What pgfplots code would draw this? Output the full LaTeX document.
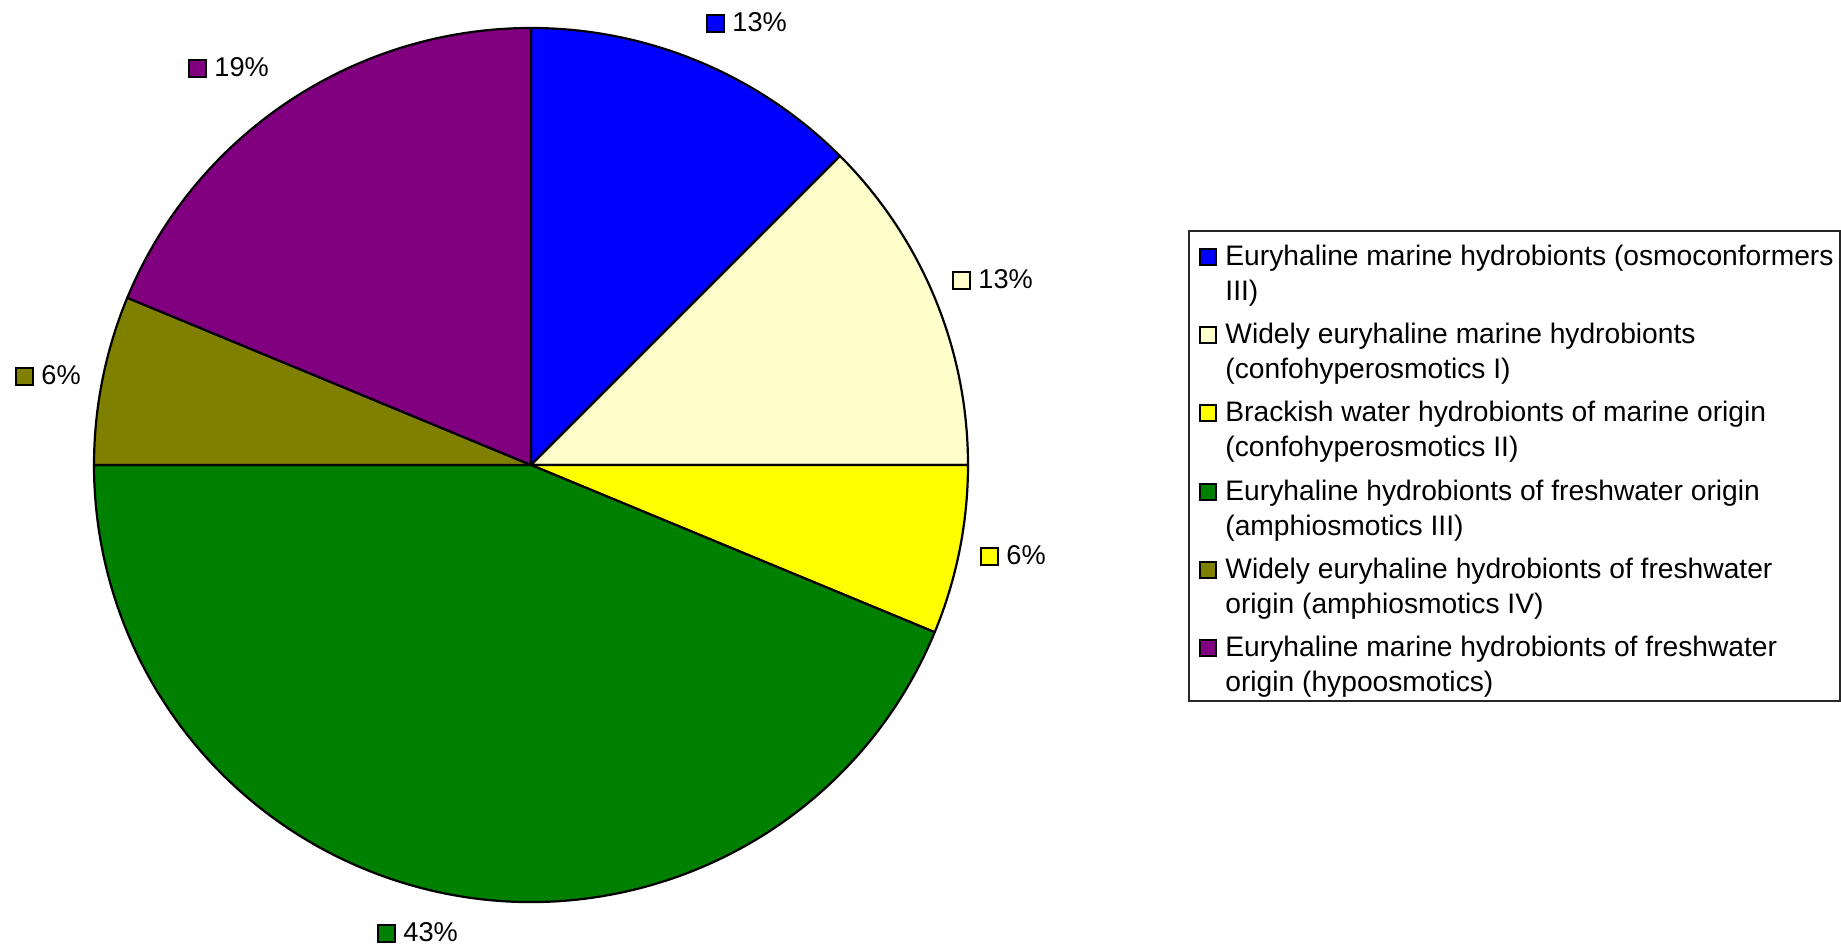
\documentclass[border=0pt]{standalone}
\usepackage{fontspec}
\setmainfont{Liberation Sans}
\usepackage{pgfplots}
\pgfplotsset{compat=1.18}
\definecolor{cBlue}{RGB}{0,0,255}
\definecolor{cCream}{RGB}{255,255,204}
\definecolor{cYellow}{RGB}{255,255,0}
\definecolor{cGreen}{RGB}{0,128,0}
\definecolor{cOlive}{RGB}{128,128,0}
\definecolor{cPurple}{RGB}{128,0,128}
% pie data (percent), clockwise from 12 o'clock
\def\vA{12.5}\def\vB{12.5}\def\vC{6.25}\def\vD{43.75}\def\vE{6.25}\def\vF{18.75}
\begin{document}
\begin{tikzpicture}
\begin{axis}[
  at={(0,0)}, anchor=south west,
  scale only axis, x=0.5pt, y=0.5pt,
  xmin=0, xmax=1841, ymin=0, ymax=947,
  hide axis, clip=false,
]
\path (axis cs:0,0) rectangle (axis cs:1841,947);
% slices: centre (531,482), radius 437 units = 218.5pt
\pgfmathsetmacro\aA{90}
\pgfmathsetmacro\aB{90-3.6*\vA}
\pgfmathsetmacro\aC{\aB-3.6*\vB}
\pgfmathsetmacro\aD{\aC-3.6*\vC}
\pgfmathsetmacro\aE{\aD-3.6*\vD}
\pgfmathsetmacro\aF{\aE-3.6*\vE}
\pgfmathsetmacro\aG{\aF-3.6*\vF}
\filldraw[fill=cBlue, draw=black, line width=1.1pt, line join=round] (axis cs:531,482) -- (axis cs:{531+437*cos(\aA)},{482+437*sin(\aA)}) arc[start angle=\aA, end angle=\aB, radius=218.5pt] -- cycle;
\filldraw[fill=cCream, draw=black, line width=1.1pt, line join=round] (axis cs:531,482) -- (axis cs:{531+437*cos(\aB)},{482+437*sin(\aB)}) arc[start angle=\aB, end angle=\aC, radius=218.5pt] -- cycle;
\filldraw[fill=cYellow, draw=black, line width=1.1pt, line join=round] (axis cs:531,482) -- (axis cs:{531+437*cos(\aC)},{482+437*sin(\aC)}) arc[start angle=\aC, end angle=\aD, radius=218.5pt] -- cycle;
\filldraw[fill=cGreen, draw=black, line width=1.1pt, line join=round] (axis cs:531,482) -- (axis cs:{531+437*cos(\aD)},{482+437*sin(\aD)}) arc[start angle=\aD, end angle=\aE, radius=218.5pt] -- cycle;
\filldraw[fill=cOlive, draw=black, line width=1.1pt, line join=round] (axis cs:531,482) -- (axis cs:{531+437*cos(\aE)},{482+437*sin(\aE)}) arc[start angle=\aE, end angle=\aF, radius=218.5pt] -- cycle;
\filldraw[fill=cPurple, draw=black, line width=1.1pt, line join=round] (axis cs:531,482) -- (axis cs:{531+437*cos(\aF)},{482+437*sin(\aF)}) arc[start angle=\aF, end angle=\aG, radius=218.5pt] -- cycle;
% data labels
\tikzset{lab/.style={anchor=base west, inner sep=0pt, font=\fontsize{13.6pt}{16pt}\selectfont},
         leg/.style={anchor=base west, inner sep=0pt, font=\fontsize{14.1pt}{17pt}\selectfont},
         sq/.style={draw=black, line width=0.8pt}}
\filldraw[sq, fill=cBlue]   (axis cs:707,915) rectangle (axis cs:724,932);
\node[lab] at (axis cs:732,915) {13\%};
\filldraw[sq, fill=cCream]  (axis cs:953,658) rectangle (axis cs:970,675);
\node[lab] at (axis cs:978,658) {13\%};
\filldraw[sq, fill=cYellow] (axis cs:981,382) rectangle (axis cs:998,399);
\node[lab] at (axis cs:1006,382) {6\%};
\filldraw[sq, fill=cGreen]  (axis cs:378,5) rectangle (axis cs:395,22);
\node[lab] at (axis cs:403,5) {43\%};
\filldraw[sq, fill=cOlive]  (axis cs:16,562) rectangle (axis cs:33,579);
\node[lab] at (axis cs:41,562) {6\%};
\filldraw[sq, fill=cPurple] (axis cs:189,870) rectangle (axis cs:206,887);
\node[lab] at (axis cs:214,870) {19\%};
% legend
\draw[black!85, line width=0.6pt] (axis cs:1189,246) rectangle (axis cs:1840,716);
\tikzset{lsq/.style={draw=black, line width=0.6pt}}
\filldraw[lsq, fill=cBlue]   (axis cs:1200,682) rectangle (axis cs:1216,698);
\node[leg] at (axis cs:1225,681) {Euryhaline marine hydrobionts (osmoconformers};
\node[leg] at (axis cs:1225,646) {III)};
\filldraw[lsq, fill=cCream]  (axis cs:1200,604) rectangle (axis cs:1216,620);
\node[leg] at (axis cs:1225,603) {Widely euryhaline marine hydrobionts};
\node[leg] at (axis cs:1225,568) {(confohyperosmotics I)};
\filldraw[lsq, fill=cYellow] (axis cs:1200,526) rectangle (axis cs:1216,542);
\node[leg] at (axis cs:1225,525) {Brackish water hydrobionts of marine origin};
\node[leg] at (axis cs:1225,490) {(confohyperosmotics II)};
\filldraw[lsq, fill=cGreen]  (axis cs:1200,447) rectangle (axis cs:1216,463);
\node[leg] at (axis cs:1225,446) {Euryhaline hydrobionts of freshwater origin};
\node[leg] at (axis cs:1225,411) {(amphiosmotics III)};
\filldraw[lsq, fill=cOlive]  (axis cs:1200,369) rectangle (axis cs:1216,385);
\node[leg] at (axis cs:1225,368) {Widely euryhaline hydrobionts of freshwater};
\node[leg] at (axis cs:1225,333) {origin (amphiosmotics IV)};
\filldraw[lsq, fill=cPurple] (axis cs:1200,291) rectangle (axis cs:1216,307);
\node[leg] at (axis cs:1225,290) {Euryhaline marine hydrobionts of freshwater};
\node[leg] at (axis cs:1225,255) {origin (hypoosmotics)};
\end{axis}
\pgfresetboundingbox
\useasboundingbox (0,0) rectangle (920.5pt,473.5pt);
\end{tikzpicture}
\end{document}
